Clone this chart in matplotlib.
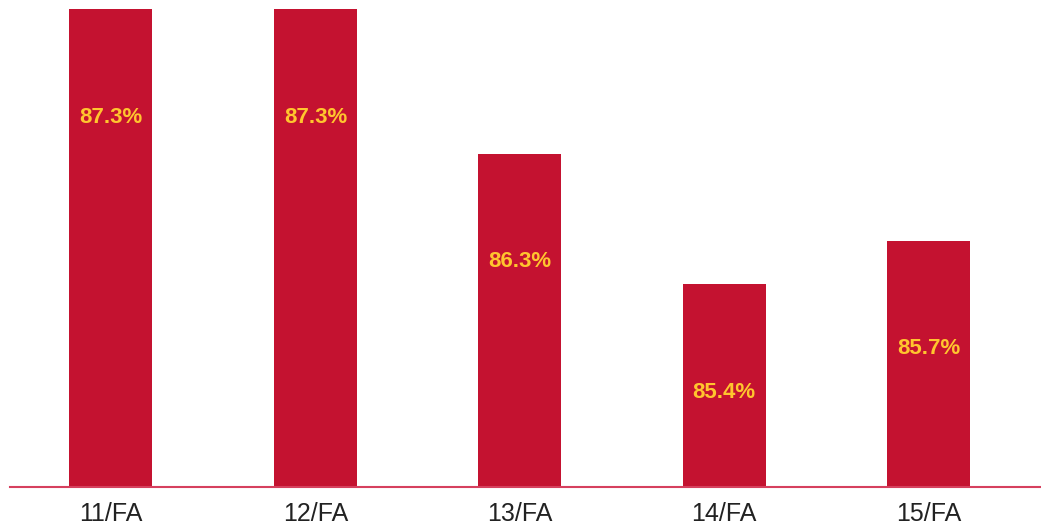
import matplotlib.pyplot as plt

# retention rates by fall cohort
cohorts = ['11/FA', '12/FA', '13/FA', '14/FA', '15/FA']
rates = [87.3, 87.3, 86.3, 85.4, 85.7]

bar_color = '#C41230'
label_color = '#FFC52E'
font = ['Liberation Sans Narrow', 'Liberation Sans', 'DejaVu Sans']

fig = plt.figure(figsize=(10.41, 5.29), dpi=100)
ax = fig.add_axes([10 / 1041, 42 / 529, 1031 / 1041, 487 / 529])

x = range(len(cohorts))
ax.bar(x, rates, width=0.406, color=bar_color, zorder=2)

# percentage labels sit a fixed distance under the top of each bar
for i, r in zip(x, rates):
    ax.annotate('{:.1f}%'.format(r), xy=(i, r), xytext=(0, -78),
                textcoords='offset points', ha='center', va='center',
                color=label_color, fontsize=16, fontweight='bold', family=font)

ax.set_ylim(84, 87.36)
ax.set_xlim(-0.494, 4.55)
ax.set_xticks(list(x))
ax.set_xticklabels(cohorts, family=font, fontsize=18, color='#222222')
ax.tick_params(axis='x', length=0, pad=11)
ax.set_yticks([])

for side in ['top', 'right', 'left']:
    ax.spines[side].set_visible(False)
ax.spines['bottom'].set_color('#D6405E')
ax.spines['bottom'].set_linewidth(1.5)
ax.spines['bottom'].set_zorder(3)

fig.savefig('out.png', dpi=100)
